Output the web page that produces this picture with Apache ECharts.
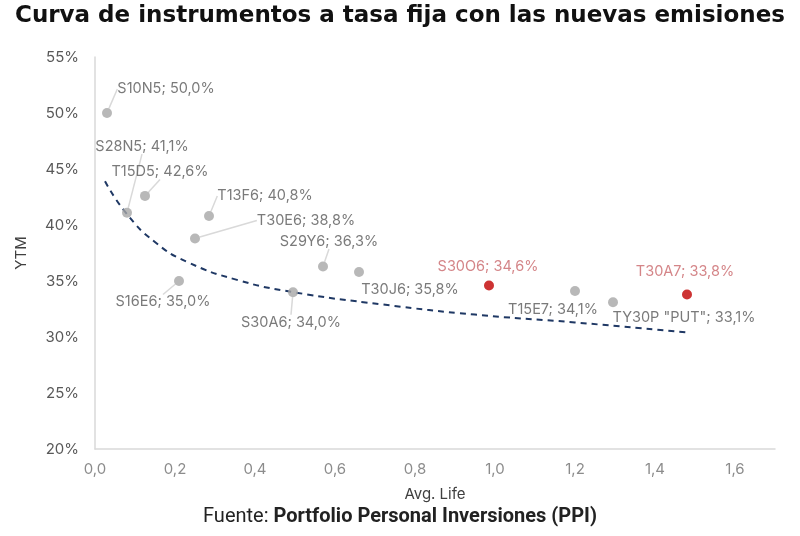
<!DOCTYPE html>
<html>
<head>
<meta charset="utf-8">
<script src="https://cdn.jsdelivr.net/npm/echarts@6/dist/echarts.min.js"></script>
<style>
  html, body { margin: 0; padding: 0; background: #fff; }
  #chart { width: 800px; height: 536px; }
</style>
</head>
<body>
<div id="chart"></div>
<script>
// datos
var bonos = ['S10N5', 'S28N5', 'T15D5', 'T13F6', 'T30E6', 'S29Y6', 'T30J6',
             'S16E6', 'S30A6', 'S30O6', 'T15E7', 'TY30P "PUT"', 'T30A7'];
var vidaMedia = [0.03, 0.08, 0.125, 0.285, 0.25, 0.57, 0.66, 0.21, 0.495, 0.985, 1.20, 1.295, 1.48];
var ytm = [50.0, 41.1, 42.6, 40.8, 38.8, 36.3, 35.8, 35.0, 34.0, 34.6, 34.1, 33.1, 33.8];
var nuevas = ['S30O6', 'T30A7'];          // nuevas emisiones (rojo)

// curva de tendencia (puntos leidos sobre la linea punteada)
var curvaX = [0.025, 0.077, 0.149, 0.231, 0.355, 0.497, 0.72, 0.95, 1.20, 1.48];
var curvaY = [43.9, 41.1, 38.5, 36.7, 35.1, 34.0, 32.9, 32.0, 31.3, 30.4];

// desplazamiento de etiquetas (px) y si llevan linea guia
var etiquetaDx = [59, 15, 15, 56, 111, 6, 51, -16, -2, -1, -22, 71, -2];
var etiquetaDy = [-24, -66, -24, -20, -18, -25, 18, 21, 30, -19, 19, 15, -23];
var conGuia = [true, true, true, true, true, true, false, true, true, false, false, false, false];

var gris = '#a6a6a6', rojo = '#c00000';

var puntos = bonos.map(function(b, i) {
  var esNueva = nuevas.indexOf(b) >= 0;
  return {
    value: [vidaMedia[i], ytm[i]],
    name: b,
    itemStyle: { color: esNueva ? rojo : gris },
    label: { color: esNueva ? '#c9676a' : '#595959' },
    labelLine: { show: conGuia[i] }
  };
});

var curva = curvaX.map(function(x, i) { return [x, curvaY[i]]; });

function coma(v, d) {
  return v.toFixed(d).replace('.', ',');
}

var myChart = echarts.init(document.getElementById('chart'));
var option = {
  animation: false,
  textStyle: { fontFamily: 'Inter, Roboto, sans-serif' },
  title: [{
    text: 'Curva de instrumentos a tasa fija con las nuevas emisiones',
    left: 10, top: 0,
    textStyle: { fontFamily: 'DejaVu Sans', fontWeight: 'bold', fontSize: 23, color: '#111' }
  }, {
    text: '{a|Fuente: }{b|Portfolio Personal Inversiones (PPI)}',
    left: 'center', bottom: 4,
    textStyle: {
      rich: {
        a: { fontFamily: 'Roboto', fontSize: 20, fontWeight: 'normal', color: '#222' },
        b: { fontFamily: 'Roboto', fontSize: 20, fontWeight: 'bold', color: '#222' }
      }
    }
  }],
  grid: { left: 95, right: 25, top: 57, bottom: 87 },
  xAxis: {
    type: 'value',
    min: 0, max: 1.7, interval: 0.2,
    name: 'Avg. Life', nameLocation: 'middle', nameGap: 38,
    nameTextStyle: { color: '#404040', fontSize: 15 },
    axisLine: { show: true, lineStyle: { color: '#d9d9d9', width: 1.5 } },
    axisTick: { show: false },
    splitLine: { show: false },
    axisLabel: {
      color: '#8c8c8c', fontSize: 15, margin: 13, showMaxLabel: false,
      formatter: function(v) { return coma(v, 1); }
    }
  },
  yAxis: {
    type: 'value',
    min: 20, max: 55, interval: 5,
    name: 'YTM', nameLocation: 'middle', nameGap: 66, nameRotate: 90,
    nameTextStyle: { color: '#404040', fontSize: 15 },
    axisLine: { show: true, lineStyle: { color: '#d9d9d9', width: 1.5 } },
    axisTick: { show: false },
    splitLine: { show: false },
    axisLabel: { color: '#595959', fontSize: 15, margin: 16, formatter: '{value}%' }
  },
  series: [{
    type: 'line',
    data: curva,
    smooth: true,
    symbol: 'none',
    lineStyle: { color: '#1f3864', width: 2, type: [6, 5] },
    z: 1
  }, {
    type: 'scatter',
    data: puntos,
    symbolSize: 10,
    z: 3,
    label: {
      show: true,
      position: 'inside',
      fontSize: 14.5,
      formatter: function(p) { return p.name + '; ' + coma(p.value[1], 1) + '%'; }
    },
    labelLine: { show: true, lineStyle: { color: '#d9d9d9', width: 1.5 } },
    labelLayout: function(p) {
      return { dx: etiquetaDx[p.dataIndex], dy: etiquetaDy[p.dataIndex] };
    }
  }]
};
myChart.setOption(option);
</script>
</body>
</html>
